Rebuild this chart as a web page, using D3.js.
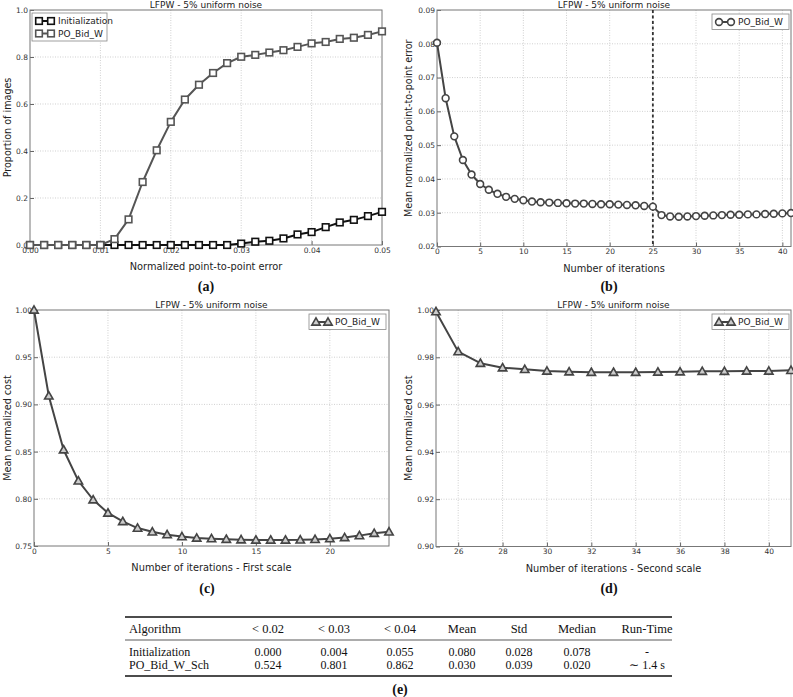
<!DOCTYPE html>
<html>
<head>
<meta charset="utf-8">
<script src="https://cdn.jsdelivr.net/npm/d3@7"></script>
<style>
  body { margin: 0; background: #fff; }
  svg { display: block; }
  text { font-family: "DejaVu Sans", sans-serif; }
</style>
</head>
<body>
<svg id="chart" width="793" height="697"></svg>
<script>
// ---------- DATA ----------
const titleText = "LFPW - 5% uniform noise";

// (a) cumulative error distribution
const aX = [0,0.002,0.004,0.006,0.008,0.010,0.012,0.014,0.016,0.018,0.020,0.022,0.024,0.026,0.028,0.030,0.032,0.034,0.036,0.038,0.040,0.042,0.044,0.046,0.048,0.050];
const aInit = [0,0,0,0,0,0,0,0,0,0,0,0,0,0,0,0.006,0.014,0.018,0.028,0.045,0.055,0.076,0.096,0.107,0.123,0.141];
const aPO = [0,0,0,0,0,0,0.025,0.109,0.268,0.403,0.524,0.619,0.682,0.732,0.774,0.801,0.809,0.819,0.829,0.843,0.858,0.864,0.877,0.882,0.894,0.909];
const aXTicks = [0,0.01,0.02,0.03,0.04,0.05];
const aYTicks = [0,0.2,0.4,0.6,0.8,1.0];

// (b) mean error per iteration
const bIter = d3.range(0, 42);
const bErr = [0.0803,0.0639,0.0526,0.0456,0.0413,0.0385,0.0368,0.0356,0.0347,0.0341,0.0337,0.0333,0.0331,0.0330,0.0329,0.0328,0.0327,0.0327,0.0326,0.0325,0.0325,0.0324,0.0323,0.0322,0.0320,0.0318,0.0293,0.0289,0.0288,0.0289,0.0290,0.0291,0.0292,0.0293,0.0294,0.0294,0.0295,0.0295,0.0296,0.0297,0.0298,0.0299];
const bXTicks = [0,5,10,15,20,25,30,35,40];
const bYTicks = [0.02,0.03,0.04,0.05,0.06,0.07,0.08,0.09];
const bSplit = 25;

// (c) cost, first scale
const cIter = d3.range(0, 25);
const cCost = [1.000,0.909,0.852,0.819,0.799,0.785,0.776,0.769,0.765,0.762,0.760,0.7585,0.7578,0.7572,0.7567,0.7564,0.7564,0.7564,0.7565,0.757,0.7578,0.759,0.761,0.7635,0.765];
const cXTicks = [0,5,10,15,20];
const cYTicks = [0.75,0.80,0.85,0.90,0.95,1.00];

// (d) cost, second scale
const dIter = d3.range(25, 42);
const dCost = [0.9993,0.9824,0.9775,0.9756,0.9749,0.9742,0.9739,0.9737,0.9737,0.9737,0.9738,0.9739,0.9741,0.9741,0.9742,0.9742,0.9745];
const dXTicks = [26,28,30,32,34,36,38,40];
const dYTicks = [0.90,0.92,0.94,0.96,0.98,1.00];

// (e) table
const tableHeader = ["Algorithm", "< 0.02", "< 0.03", "< 0.04", "Mean", "Std", "Median", "Run-Time"];
const tableRows = [
  ["Initialization", "0.000", "0.004", "0.055", "0.080", "0.028", "0.078", "-"],
  ["PO_Bid_W_Sch", "0.524", "0.801", "0.862", "0.030", "0.039", "0.020", "∼ 1.4 s"]
];

// ---------- DRAW ----------
const svg = d3.select("#chart");

function marker(g, type, x, y, stroke) {
  if (type === "square") {
    g.append("rect").attr("x", x - 3.3).attr("y", y - 3.3).attr("width", 6.6).attr("height", 6.6)
      .attr("fill", "#fff").attr("stroke", stroke).attr("stroke-width", 1.6);
  } else if (type === "circle") {
    g.append("circle").attr("cx", x).attr("cy", y).attr("r", 3.4)
      .attr("fill", "#fff").attr("stroke", stroke).attr("stroke-width", 1.6);
  } else {
    const s = 4.2;
    g.append("path").attr("d", `M${x},${y - s}L${x + s},${y + s * 0.75}L${x - s},${y + s * 0.75}Z`)
      .attr("fill", "#ccc").attr("stroke", stroke).attr("stroke-width", 1.6).attr("stroke-linejoin", "miter");
  }
}

function panel(o) {
  const g = svg.append("g");
  const x = d3.scaleLinear().domain(o.xDomain).range([o.left, o.right]);
  const y = d3.scaleLinear().domain(o.yDomain).range([o.bottom, o.top]);

  // grid
  const grid = g.append("g");
  o.xTicks.forEach(t => {
    const px = x(t);
    if (Math.abs(px - o.left) > 1 && Math.abs(px - o.right) > 1)
      grid.append("line").attr("x1", px).attr("x2", px).attr("y1", o.top).attr("y2", o.bottom)
        .attr("stroke", "#bbb").attr("stroke-width", 0.7).attr("stroke-dasharray", "1,1.5");
  });
  o.yTicks.forEach(t => {
    const py = y(t);
    if (Math.abs(py - o.top) > 1 && Math.abs(py - o.bottom) > 1)
      grid.append("line").attr("x1", o.left).attr("x2", o.right).attr("y1", py).attr("y2", py)
        .attr("stroke", "#bbb").attr("stroke-width", 0.7).attr("stroke-dasharray", "1,1.5");
  });

  // axes (ticks inside, matplotlib classic)
  const xAxis = d3.axisBottom(x).tickValues(o.xTicks).tickFormat(o.xFmt).tickSizeInner(-4).tickSizeOuter(0).tickPadding(3);
  const yAxis = d3.axisLeft(y).tickValues(o.yTicks).tickFormat(o.yFmt).tickSizeInner(-4).tickSizeOuter(0).tickPadding(2);
  const xa = g.append("g").attr("transform", `translate(0,${o.bottom})`).call(xAxis);
  const ya = g.append("g").attr("transform", `translate(${o.left},0)`).call(yAxis);
  [xa, ya].forEach(a => {
    a.select(".domain").remove();
    a.selectAll("line").attr("stroke", "#666");
    a.selectAll("text").attr("fill", "#333").style("font-size", "7.5px").style("font-family", "DejaVu Sans");
  });
  xa.selectAll("text").attr("dy", "0.6em");

  // frame
  g.append("rect").attr("x", o.left).attr("y", o.top).attr("width", o.right - o.left).attr("height", o.bottom - o.top)
    .attr("fill", "none").attr("stroke", "#777").attr("stroke-width", 1);

  // extra (dashed split line)
  if (o.vline !== undefined) {
    g.append("line").attr("x1", x(o.vline)).attr("x2", x(o.vline)).attr("y1", o.top).attr("y2", o.bottom)
      .attr("stroke", "#333").attr("stroke-width", 1.8).attr("stroke-dasharray", "3,2.5");
  }

  // series
  o.series.forEach(s => {
    const sg = g.append("g");
    const line = d3.line().x((d, i) => x(s.xs[i])).y(d => y(d));
    sg.append("path").datum(s.ys).attr("d", line).attr("fill", "none")
      .attr("stroke", s.color).attr("stroke-width", 2).attr("stroke-linejoin", "round");
    s.ys.forEach((v, i) => {
      const px = x(s.xs[i]);
      if (px <= o.right + 0.5) marker(sg, s.marker, px, y(v), s.color);
    });
  });

  // title
  g.append("text").attr("x", (o.left + o.right) / 2).attr("y", o.top - 2.5).attr("text-anchor", "middle")
    .style("font-size", "9px").attr("fill", "#222").text(titleText);

  // axis labels
  g.append("text").attr("x", (o.left + o.right) / 2).attr("y", o.bottom + 25).attr("text-anchor", "middle")
    .style("font-size", "9.8px").attr("fill", "#222").text(o.xLabel);
  g.append("text").attr("transform", `translate(${o.yLabelX},${(o.top + o.bottom) / 2}) rotate(-90)`)
    .attr("text-anchor", "middle").style("font-size", "9.6px").attr("fill", "#222").text(o.yLabel);

  // legend
  const lg = g.append("g");
  const lh = 12.5 * o.series.length + 3;
  lg.append("rect").attr("x", o.legend.x).attr("y", o.legend.y).attr("width", o.legend.w).attr("height", lh)
    .attr("fill", "#fff").attr("stroke", "#888").attr("stroke-width", 0.8);
  o.series.forEach((s, i) => {
    const ly = o.legend.y + 8 + i * 12.5;
    const lx = o.legend.x + 4;
    lg.append("line").attr("x1", lx + 3).attr("x2", lx + 15).attr("y1", ly).attr("y2", ly)
      .attr("stroke", s.color).attr("stroke-width", 2);
    marker(lg, s.marker, lx + 3, ly, s.color);
    marker(lg, s.marker, lx + 15, ly, s.color);
    lg.append("text").attr("x", lx + 22).attr("y", ly + 3.3).style("font-size", "9px").attr("fill", "#222").text(s.name);
  });

  // caption
  g.append("text").attr("x", o.capX).attr("y", o.capY).attr("text-anchor", "middle")
    .style("font-family", "Liberation Serif, serif").style("font-weight", "bold").style("font-size", "14px")
    .attr("fill", "#111").text(o.caption);
}

panel({
  id: "a", left: 30, right: 382, top: 10, bottom: 245,
  xDomain: [0, 0.05], yDomain: [0, 1],
  xTicks: aXTicks, yTicks: aYTicks, xFmt: d3.format(".2f"), yFmt: d3.format(".1f"),
  xLabel: "Normalized point-to-point error", yLabel: "Proportion of images", yLabelX: 10.5,
  series: [
    { name: "Initialization", xs: aX, ys: aInit, color: "#111", marker: "square" },
    { name: "PO_Bid_W", xs: aX, ys: aPO, color: "#555", marker: "square" }
  ],
  legend: { x: 32, y: 13, w: 75 },
  caption: "(a)", capX: 206, capY: 291
});

panel({
  id: "b", left: 437, right: 791, top: 10, bottom: 246.5,
  xDomain: [0, 41], yDomain: [0.02, 0.09],
  xTicks: bXTicks, yTicks: bYTicks, xFmt: d3.format("d"), yFmt: d3.format(".2f"),
  xLabel: "Number of iterations", yLabel: "Mean normalized point-to-point error", yLabelX: 412,
  vline: bSplit,
  series: [
    { name: "PO_Bid_W", xs: bIter, ys: bErr, color: "#444", marker: "circle" }
  ],
  legend: { x: 712, y: 14, w: 77 },
  caption: "(b)", capX: 609, capY: 291
});

panel({
  id: "c", left: 34, right: 389, top: 310, bottom: 546,
  xDomain: [0, 24], yDomain: [0.75, 1.0],
  xTicks: cXTicks, yTicks: cYTicks, xFmt: d3.format("d"), yFmt: d3.format(".2f"),
  xLabel: "Number of iterations - First scale", yLabel: "Mean normalized cost", yLabelX: 10.5,
  series: [
    { name: "PO_Bid_W", xs: cIter, ys: cCost, color: "#444", marker: "triangle" }
  ],
  legend: { x: 309, y: 314, w: 77 },
  caption: "(c)", capX: 207, capY: 593
});

panel({
  id: "d", left: 436, right: 791, top: 310, bottom: 546.5,
  xDomain: [25, 41], yDomain: [0.90, 1.0],
  xTicks: dXTicks, yTicks: dYTicks, xFmt: d3.format("d"), yFmt: d3.format(".2f"),
  xLabel: "Number of iterations - Second scale", yLabel: "Mean normalized cost", yLabelX: 412,
  series: [
    { name: "PO_Bid_W", xs: dIter, ys: dCost, color: "#444", marker: "triangle" }
  ],
  legend: { x: 712, y: 314, w: 77 },
  caption: "(d)", capX: 609, capY: 593
});

// ---------- TABLE (e) ----------
const tg = svg.append("g");
const tLeft = 125, tRight = 672;
const colX = [129, 268, 334, 400, 462, 519, 577, 647];
const colAnchor = ["start", "middle", "middle", "middle", "middle", "middle", "middle", "middle"];
const tFont = "Liberation Serif, serif";
const rule = (yy, w) => tg.append("line").attr("x1", tLeft).attr("x2", tRight).attr("y1", yy).attr("y2", yy)
  .attr("stroke", "#111").attr("stroke-width", w);
rule(617, 1.3); rule(640, 0.7); rule(676, 1.3);
tableHeader.forEach((h, i) => {
  tg.append("text").attr("x", colX[i]).attr("y", 633).attr("text-anchor", colAnchor[i])
    .style("font-family", tFont).style("font-size", "12.5px").attr("fill", "#111").text(h);
});
tableRows.forEach((r, ri) => {
  r.forEach((c, i) => {
    tg.append("text").attr("x", colX[i]).attr("y", 656 + ri * 12.5).attr("text-anchor", colAnchor[i])
      .style("font-family", tFont).style("font-size", "12px").attr("fill", "#111").text(c);
  });
});
tg.append("text").attr("x", 400).attr("y", 694).attr("text-anchor", "middle")
  .style("font-family", tFont).style("font-weight", "bold").style("font-size", "14px")
  .attr("fill", "#111").text("(e)");
</script>
</body>
</html>
